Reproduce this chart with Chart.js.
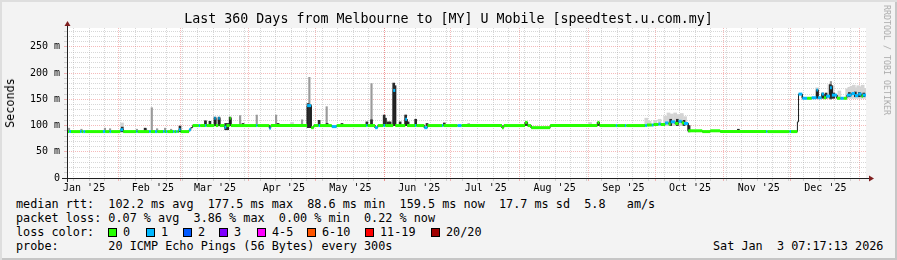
<!DOCTYPE html>
<html lang="en">
<head>
<meta charset="UTF-8">
<title>Last 360 Days from Melbourne to [MY] U Mobile</title>
<script src="https://cdn.jsdelivr.net/npm/chart.js"></script>
<style>
    body { margin: 0; padding: 0; background: #f3f3f3; }
    .graph {
        position: relative;
        width: 897px;
        height: 260px;
        background: #f3f3f3;
        box-shadow: inset 2px 2px 0 #dedede, inset -2px -2px 0 #c6c6c6;
        font-family: "DejaVu Sans Mono", monospace;
        color: #000;
        overflow: hidden;
    }
    #chart { position: absolute; left: 0; top: 0; }
    .title {
        position: absolute; left: 0; top: 11px; width: 897px;
        text-align: center; font-size: 13.3px; line-height: 16px;
    }
    .ylabel {
        position: absolute; left: 10px; top: 103px;
        transform: translate(-50%, -50%) rotate(-90deg);
        font-size: 11.8px; white-space: nowrap;
    }
    .brand {
        position: absolute; left: 887px; top: 60px;
        transform: translate(-50%, -50%) rotate(90deg);
        font-size: 8.3px; color: #ababab; white-space: nowrap;
    }
    .line {
        position: absolute; left: 16px; font-size: 11.8px;
        line-height: 14px; white-space: pre;
    }
    .item { position: absolute; font-size: 11.8px; line-height: 14px; white-space: pre; }
    .box {
        position: absolute; width: 7px; height: 7px; border: 1px solid #000;
    }
</style>
</head>
<body>
<div class="graph">
    <canvas id="chart" width="897" height="196"></canvas>
    <div class="title">Last 360 Days from Melbourne to [MY] U Mobile [speedtest.u.com.my]</div>
    <div class="ylabel">Seconds</div>
    <div class="brand">RRDTOOL / TOBI OETIKER</div>
    <div class="line" style="top:197px">median rtt:  102.2 ms avg  177.5 ms max  88.6 ms min  159.5 ms now  17.7 ms sd  5.8   am/s</div>
    <div class="line" style="top:211px">packet loss: 0.07 % avg  3.86 % max  0.00 % min  0.22 % now</div>
    <div class="line" style="top:225px">loss color:</div>
    <div id="lossLegend"></div>
    <div class="line" style="top:239px">probe:       20 ICMP Echo Pings (56 Bytes) every 300s</div>
    <div class="item" style="top:239px; left:713px">Sat Jan  3 07:17:13 2026</div>
</div>

<script>
    // x values are days since the left edge of the graph (8 Jan 2025)
    const monthStart = [-8, 23, 51, 82, 112, 143, 173, 204, 235, 265, 296, 326, 357];
    const monthNames = ["Jan '25", "Feb '25", "Mar '25", "Apr '25", "May '25", "Jun '25",
                        "Jul '25", "Aug '25", "Sep '25", "Oct '25", "Nov '25", "Dec '25"];
    const firstSunday = 3;
    const yTicks = [0, 10, 20, 30, 40, 50, 60, 70, 80, 90, 100, 110, 120, 130, 140,
                    150, 160, 170, 180, 190, 200, 210, 220, 230, 240, 250, 260, 270, 280];

    const lossColors = ['#26ff00', '#00b8ff', '#0059ff', '#7e00ff', '#ff00ff', '#ff5500', '#ff0000', '#a00000'];
    const lossLabels = ['0', '1', '2', '3', '4-5', '6-10', '11-19', '20/20'];
    const lossBoxX = [108, 146, 183, 219, 257, 307, 365, 431];

    // median rtt (ms): each run starts at medStart and lasts until the next one; loss -1 = no colour band
    const medStart = [0, 1.0, 1.8, 5.9, 6.6, 7.4, 8.2, 16.2, 17.2, 19.2, 19.9, 24.0, 25.3, 31.2, 31.8,
        37.0, 37.8, 39.7, 40.7, 43.3, 44.0, 44.6, 45.2, 47.8, 48.4, 49.2, 49.8, 50.4, 51.2, 55.0, 55.8,
        56.6, 59.4, 60.0, 62.2, 62.8, 66.4, 67.0, 68.2, 68.8, 71.0, 71.8, 73.3, 73.8, 85.2, 85.8,
        91.2, 91.8, 108.2, 110.0, 111.2, 113.4, 114.0, 119.3, 121.5, 134.8, 135.4, 138.8, 140.0,
        142.6, 143.4, 147.0, 147.9, 152.4, 153.2, 156.8, 157.4, 161.0, 162.4, 169.0, 169.6, 176.0,
        177.8, 196.0, 196.8, 206.4, 207.5, 209.1, 217.7, 239.0, 239.9, 247.3, 247.9, 251.4, 252.0,
        260.5, 261.3, 263.5, 264.3, 266.5, 267.5, 269.5, 271.0, 272.0, 274.0, 275.5, 277.0, 278.0,
        279.9, 286.2, 289.8, 294.3, 315.0, 315.6, 325.6, 326.2,
        329.1, 329.6, 331.3, 333.5, 335.5, 337.7, 338.3, 340.0, 341.0, 342.0, 343.8, 344.6, 346.9,
        348.5, 350.0, 351.4, 353.5, 355.0, 356.5, 358.0, 358.6];
    const medMs = [88.5, 88.5, 88.5, 88.5, 88.5, 88.5, 88.5, 88.5, 88.5, 88.5, 88.5, 92, 88.5, 88.5, 88.5,
        88.5, 88.5, 88.5, 88.5, 88.5, 88.5, 88.5, 88.5, 88.5, 88.5, 88.5, 88.5, 92, 88.5, 92, 96,
        100, 100, 100, 100, 100, 114, 100, 114, 100, 97, 100, 114, 100, 100, 100,
        95, 100, 138, 96, 100, 100, 100, 98, 100, 100, 100, 96, 100,
        100, 100, 167, 100, 112, 100, 100, 100, 96, 100, 100, 100, 100,
        100, 96, 100, 106, 100, 96, 100, 106, 100, 100, 100, 100, 100,
        100, 101, 101, 102, 103, 102, 105, 103, 107, 104, 108, 105, 104,
        90, 88.5, 90, 88.5, 88.5, 88.5, 88.5, 88.5,
        107, 160, 152, 152, 153, 168, 153, 160, 153, 156, 172, 158, 152,
        152, 152, 158, 161, 157, 160, 156, 158];
    const medLoss = [0, 1, 0, 1, 0, 1, 0, 1, 0, 1, 0, 1, 0, 1, 0,
        1, 0, 1, 0, 1, 0, 1, 0, 1, 0, 1, 0, 1, 0, 1, -1,
        0, 1, 0, 1, 0, 1, 0, 1, 0, 1, 0, 0, 0, 1, 0,
        1, 0, 1, 0, 0, 1, 0, 1, 0, 1, 0, 1, 0,
        1, 0, 1, 0, 1, 0, 1, 0, 1, 0, 1, 0, 1,
        0, 0, 0, 0, 0, 0, 0, 0, 0, 1, 0, 1, 0,
        1, 0, 1, 0, 1, 0, 1, 0, 1, 0, 1, 0, 1,
        0, 0, 0, 0, 1, 0, 1, 0,
        -1, 1, 1, 0, 1, 1, 1, 1, 0, 1, 1, 1, 0,
        1, 0, 1, 1, 1, 1, 0, 1];

    // smoke (spread of the 20 pings), ms
    const greyDay = [0.9, 6.5, 17.1, 19.4, 31.5, 35.6, 38.2, 40.6, 44.2, 46.9, 62.2, 78.0, 85.5, 94.2,
        105.9, 109.2, 117.0, 137.2, 152.6, 344.2];
    const greyLo = [88, 88, 88, 88, 88, 88, 88, 88, 88, 88, 100, 100, 100, 100, 100, 100, 100, 100, 100, 150];
    const greyHi = [95, 93, 95, 94, 93, 94, 134, 94, 95, 93, 109, 119, 120, 120, 111, 192, 136, 180, 120, 184];

    const paleDay = [24.8, 101.4, 235.7, 261, 262.5, 265, 267, 269.5, 271, 272.5, 274, 275.5, 277, 278.5,
        338, 343.5, 345, 348, 351.5, 352.5, 353.5, 354.5, 355.5, 356.5, 357.5, 358.5, 359.5];
    const paleLo = [88, 100, 100, 100, 100, 100, 100, 100, 100, 100, 100, 100, 100, 100,
        152, 152, 152, 150, 152, 152, 152, 152, 152, 152, 152, 152, 152];
    const paleHi = [105, 106, 106, 114, 108, 110, 112, 118, 124, 122, 124, 121, 123, 117,
        172, 178, 176, 166, 170, 173, 175, 177, 172, 176, 174, 177, 171];

    const darkDay = [24.9, 35.2, 50.9, 62.4, 64.4, 66.7, 68.5, 71.5, 72.4, 73.5, 79.3, 95.1, 108.6, 109.5,
        113.6, 117.2, 123.9, 135.1, 137.2, 142.9, 143.5, 144.7, 145.6, 147.2, 147.8, 150.1, 152.6,
        153.7, 157.1, 162.2, 170.0, 181.0, 206.8, 239.3, 272.0, 275.0, 278.0,
        280.3, 302.5, 338.0, 340.5, 342.0, 343.9, 344.5, 345.5, 352.5, 355.2, 357.0, 359.0];
    const darkLo = [88, 88, 88, 100, 100, 100, 100, 92, 92, 100, 100, 100, 96, 96,
        100, 100, 100, 100, 100, 100, 100, 100, 100, 100, 100, 100, 100,
        100, 100, 100, 100, 100, 100, 100, 100, 100, 100,
        88, 88, 152, 152, 152, 152, 152, 152, 155, 155, 155, 155];
    const darkHi = [97, 95, 99, 109, 108, 116, 116, 104, 104, 116, 104, 104, 142, 140,
        110, 104, 104, 107, 111, 120, 114, 107, 107, 181, 176, 107, 120,
        107, 112, 104, 105, 103, 106, 106, 112, 112, 110,
        100, 93, 168, 162, 162, 178, 176, 162, 163, 164, 163, 162];

    // build datasets
    const medEnd = medStart.slice(1).concat([360]);
    const medLine = [];
    const lossLine = [];
    medStart.forEach((s, i) => {
        medLine.push({x: s, y: medMs[i]}, {x: medEnd[i], y: medMs[i]});
        lossLine.push({x: s, y: medMs[i]}, {x: medEnd[i], y: medMs[i]}, {x: medEnd[i], y: null});
    });
    const bars = (days, lo, hi) => days.map((d, i) => ({x: d, y: [lo[i], hi[i]]}));

    // legend boxes
    const legend = document.getElementById('lossLegend');
    lossLabels.forEach((l, i) => {
        const b = document.createElement('div');
        b.className = 'box';
        b.style.left = lossBoxX[i] + 'px';
        b.style.top = '228px';
        b.style.background = lossColors[i];
        legend.appendChild(b);
        const t = document.createElement('div');
        t.className = 'item';
        t.style.left = (lossBoxX[i] + 15) + 'px';
        t.style.top = '225px';
        t.textContent = l;
        legend.appendChild(t);
    });

    // x ticks: weekly minor lines, month major lines, month labels in between
    const weekTicks = [];
    for (let d = firstSunday; d < 360; d += 7) weekTicks.push(d);
    const monthTicks = monthStart.filter(d => d >= 0 && d <= 360);
    const labelTicks = monthStart.slice(0, monthNames.length).map(d => d + 15.7);
    const xTicks = weekTicks.concat(monthTicks, labelTicks).sort((a, b) => a - b);

    const minorCol = 'rgba(160,160,160,0.42)';
    const majorCol = 'rgba(230,90,90,0.42)';

    const framePlugin = {
        id: 'frame',
        beforeDraw(chart) {
            const {ctx, chartArea: a} = chart;
            ctx.save();
            ctx.fillStyle = '#ffffff';
            ctx.fillRect(a.left, a.top, a.right - a.left, a.bottom - a.top);
            ctx.restore();
        },
        afterDraw(chart) {
            const {ctx, chartArea: a} = chart;
            ctx.save();
            ctx.strokeStyle = '#1f1f1f';
            ctx.lineWidth = 1;
            ctx.beginPath();
            ctx.moveTo(a.left - 5, a.bottom + 0.5);
            ctx.lineTo(a.right + 4, a.bottom + 0.5);
            ctx.moveTo(a.left + 0.5, a.bottom + 4);
            ctx.lineTo(a.left + 0.5, a.top - 3);
            ctx.stroke();
            ctx.fillStyle = '#7f1f1f';
            ctx.beginPath();
            ctx.moveTo(a.right + 3, a.bottom - 2.5);
            ctx.lineTo(a.right + 8, a.bottom + 0.5);
            ctx.lineTo(a.right + 3, a.bottom + 3.5);
            ctx.fill();
            ctx.beginPath();
            ctx.moveTo(a.left - 2.5, a.top - 2);
            ctx.lineTo(a.left + 0.5, a.top - 7);
            ctx.lineTo(a.left + 3.5, a.top - 2);
            ctx.fill();
            ctx.restore();
        }
    };

    Chart.defaults.font.family = '"DejaVu Sans Mono", monospace';
    Chart.defaults.font.size = 10;
    Chart.defaults.color = '#000';

    new Chart(document.getElementById('chart'), {
        type: 'bar',
        data: {
            datasets: [
                {
                    type: 'line', label: 'loss', data: lossLine, order: 0,
                    borderWidth: 3, borderCapStyle: 'butt', pointRadius: 0, spanGaps: false,
                    segment: {
                        borderColor: c => {
                            const l = medLoss[Math.floor(c.p0DataIndex / 3)];
                            return l < 0 ? 'transparent' : lossColors[l];
                        }
                    }
                },
                {
                    type: 'line', label: 'median', data: medLine, order: 1,
                    borderColor: '#202020', borderWidth: 1, pointRadius: 0
                },
                { label: 'dark', data: bars(darkDay, darkLo, darkHi), order: 2,
                  backgroundColor: '#2b2b2b', barThickness: 2, grouped: false },
                { label: 'grey', data: bars(greyDay, greyLo, greyHi), order: 3,
                  backgroundColor: '#9a9a9a', barThickness: 1.5, grouped: false },
                { label: 'pale', data: bars(paleDay, paleLo, paleHi), order: 4,
                  backgroundColor: '#d4d4d4', barThickness: 3, grouped: false }
            ]
        },
        options: {
            responsive: false,
            animation: false,
            events: [],
            layout: { padding: { top: 28, right: 31, left: 0, bottom: 0 } },
            plugins: { legend: { display: false }, tooltip: { enabled: false } },
            scales: {
                x: {
                    type: 'linear', min: 0, max: 360, offset: false,
                    afterBuildTicks: s => { s.ticks = xTicks.map(v => ({value: v})); },
                    afterFit: s => { s.height = 18; },
                    grid: {
                        offset: false, tickLength: 3,
                        color: c => {
                            if (!c.tick) return 'transparent';
                            const v = c.tick.value;
                            if (labelTicks.includes(v)) return 'transparent';
                            return monthTicks.includes(v) ? majorCol : minorCol;
                        }
                    },
                    border: { display: false, dash: [1, 1] },
                    ticks: {
                        autoSkip: false, maxRotation: 0, padding: 1,
                        callback: v => {
                            const i = labelTicks.indexOf(v);
                            return i < 0 ? '' : monthNames[i];
                        }
                    }
                },
                y: {
                    type: 'linear', min: 0, max: 286,
                    afterBuildTicks: s => { s.ticks = yTicks.map(v => ({value: v})); },
                    afterFit: s => { s.width = 67; },
                    grid: {
                        tickLength: 3,
                        color: c => (c.tick && c.tick.value % 50 === 0) ? majorCol : minorCol
                    },
                    border: { display: false, dash: [1, 1] },
                    ticks: {
                        autoSkip: false, padding: 4,
                        callback: v => v % 50 !== 0 ? '' : (v === 0 ? '0' : v + ' m')
                    }
                }
            }
        },
        plugins: [framePlugin]
    });
</script>
</body>
</html>
